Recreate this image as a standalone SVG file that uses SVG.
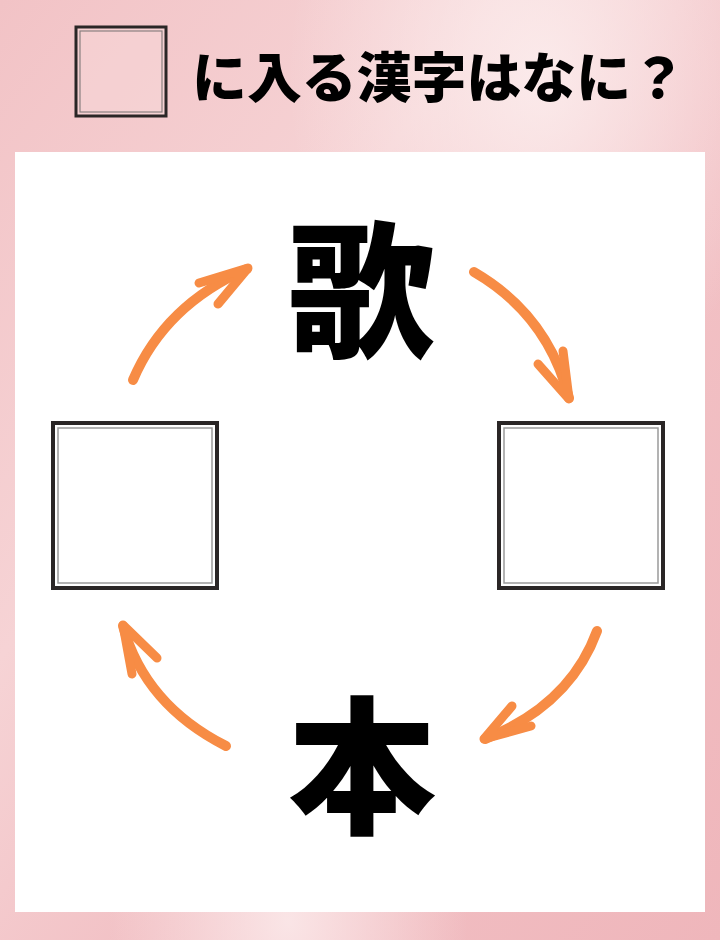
<svg xmlns="http://www.w3.org/2000/svg" width="720" height="940" viewBox="0 0 720 940">
  <defs>
    <linearGradient id="bg" x1="0" y1="0" x2="1" y2="1">
      <stop offset="0" stop-color="#f2c3c6"/>
      <stop offset="0.35" stop-color="#f6d3d5"/>
      <stop offset="0.6" stop-color="#f2c1c5"/>
      <stop offset="1" stop-color="#efb6bb"/>
    </linearGradient>
    <radialGradient id="glow1" cx="0.75" cy="0.08" r="0.35">
      <stop offset="0" stop-color="#fcefef" stop-opacity="0.85"/>
      <stop offset="1" stop-color="#fcefef" stop-opacity="0"/>
    </radialGradient>
    <radialGradient id="glow2" cx="0.4" cy="0.98" r="0.25">
      <stop offset="0" stop-color="#fbe9ea" stop-opacity="0.9"/>
      <stop offset="1" stop-color="#fbe9ea" stop-opacity="0"/>
    </radialGradient>
    <style>
      .outer{fill:#ffffff;stroke:#2a2626;stroke-width:4}
      .inner{fill:none;stroke:#9a9a9a;stroke-width:1.5}
      .arrow{fill:none;stroke:#f78c45;stroke-width:10;stroke-linecap:round;stroke-linejoin:round}
      .head{fill:none;stroke:#f78c45;stroke-width:9;stroke-linecap:round;stroke-linejoin:round}
      .kanji{font-family:"Noto Sans CJK JP","Noto Sans CJK SC",sans-serif;font-weight:900;fill:#000;text-anchor:middle}
      .title{font-family:"Noto Sans CJK JP","Noto Sans CJK SC",sans-serif;font-weight:900;fill:#000}
    </style>
  </defs>
  <rect x="0" y="0" width="720" height="940" fill="url(#bg)"/>
  <rect x="0" y="0" width="720" height="940" fill="url(#glow1)"/>
  <rect x="0" y="0" width="720" height="940" fill="url(#glow2)"/>

  <g id="title">
    <rect x="76" y="27" width="90" height="89" fill="#f7dcdd" fill-opacity="0.4" stroke="#2a2626" stroke-width="3"/>
    <rect x="80" y="31" width="82" height="81" fill="none" stroke="#8a8080" stroke-width="1.2"/>
    <text class="title" x="192" y="98" font-size="54" textLength="494" lengthAdjust="spacingAndGlyphs">に入る漢字はなに？</text>
  </g>

  <rect id="panel" x="15" y="152" width="690" height="760" fill="#ffffff"/>

  <g id="node-top"><text class="kanji" x="362" y="346" font-size="148">歌</text></g>
  <g id="node-bottom"><text class="kanji" x="362" y="822" font-size="148">本</text></g>
  <g id="node-left">
    <rect class="outer" x="53" y="423" width="164" height="165"/>
    <rect class="inner" x="58" y="428" width="154" height="155"/>
  </g>
  <g id="node-right">
    <rect class="outer" x="499" y="423" width="164" height="165"/>
    <rect class="inner" x="504" y="428" width="154" height="155"/>
  </g>

  <g id="connectors">
    <path class="arrow" d="M133,380 Q165,305 247,269"/>
    <path class="head" d="M199,283 L248,268 L218,304"/>
    <path class="arrow" d="M474,272 Q548,315 569,398"/>
    <path class="head" d="M538,364 L569,399 L563,351"/>
    <path class="arrow" d="M597,631 Q570,705 485,739"/>
    <path class="head" d="M512,706 L484,739 L531,726"/>
    <path class="arrow" d="M226,746 Q145,705 123,626"/>
    <path class="head" d="M157,658 L123,625 L132,674"/>
  </g>
</svg>
